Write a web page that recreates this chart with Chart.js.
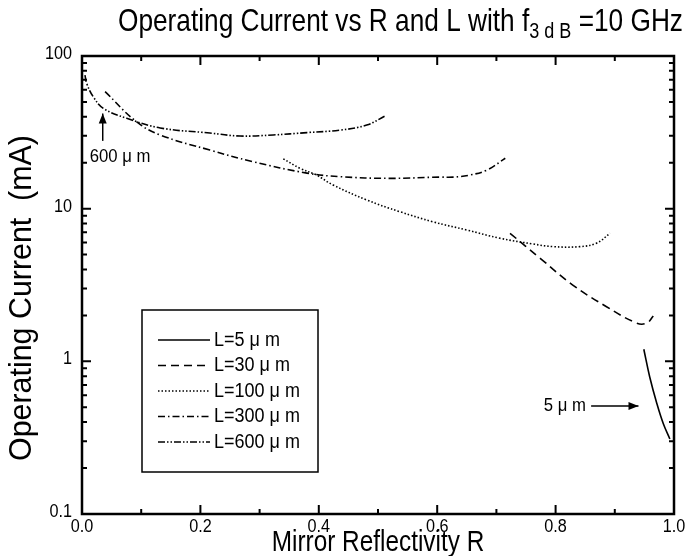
<!DOCTYPE html>
<html>
<head>
<meta charset="utf-8">
<script src="https://cdn.jsdelivr.net/npm/chart.js@4.4.1/dist/chart.umd.min.js"></script>
<style>
  html, body { margin: 0; background: #fff; }
  #wrap { width: 694px; height: 556px; }
</style>
</head>
<body>
<div id="wrap"><canvas id="chart"></canvas></div>
<script>
// Operating current vs mirror reflectivity, one curve per cavity length

const lengths = ['L=5 \u03bc m', 'L=30 \u03bc m', 'L=100 \u03bc m', 'L=300 \u03bc m', 'L=600 \u03bc m'];

const r5 = [0.949, 0.959, 0.971, 0.982, 0.993];
const i5 = [1.2, 0.79, 0.53, 0.39, 0.31];

const r30 = [0.723, 0.774, 0.829, 0.886, 0.937, 0.954, 0.965];
const i30 = [6.9, 4.73, 3.16, 2.28, 1.78, 1.78, 1.98];

const r100 = [0.340, 0.368, 0.396, 0.424, 0.481, 0.537, 0.593, 0.650, 0.706, 0.762, 0.796, 0.841, 0.869, 0.892];
const i100 = [21.2, 18.4, 16.6, 14.3, 11.4, 9.55, 8.2, 7.25, 6.4, 5.87, 5.64, 5.64, 5.94, 6.9];

const r300 = [0.039, 0.092, 0.132, 0.216, 0.289, 0.380, 0.436, 0.520, 0.603, 0.627, 0.655, 0.684, 0.715];
const i300 = [58.4, 37.1, 30.4, 24.2, 20.3, 17.1, 16.2, 15.8, 16.1, 16.1, 16.6, 17.9, 21.4];

const r600 = [0.005, 0.008, 0.019, 0.036, 0.0755, 0.132, 0.216, 0.267, 0.323, 0.380, 0.436, 0.481, 0.512];
const i600 = [75, 66, 54.1, 45.4, 39.1, 33.8, 31.3, 29.9, 30.4, 31.5, 32.7, 35.3, 40.5];

const dashes = [[], [8, 5], [1.5, 2], [7, 3, 1.5, 3], [7, 2, 1.5, 2, 1.5, 2]];

const xTicks = [0, 0.2, 0.4, 0.6, 0.8, 1.0];
const yTicks = [0.1, 1, 10, 100];

const FONT = "'Liberation Sans', Arial, sans-serif";

function pts(rs, is) {
    return rs.map((r, k) => ({ x: r, y: is[k] }));
}

const series = [[r5, i5], [r30, i30], [r100, i100], [r300, i300], [r600, i600]];

// narrow text: the original uses a condensed Helvetica
function txt(ctx, s, x, y, size, sx, align) {
    ctx.save();
    ctx.font = `${size}px ${FONT}`;
    ctx.textAlign = 'left';
    ctx.textBaseline = 'middle';
    const w = ctx.measureText(s).width * sx;
    const x0 = align === 'center' ? x - w / 2 : align === 'right' ? x - w : x;
    ctx.translate(x0, y);
    ctx.scale(sx, 1);
    ctx.fillText(s, 0, 0);
    ctx.restore();
    return w;
}

// --- Extra drawing: frame, inward ticks, labels, legend, callouts ---
const decor = {
    id: 'decor',
    afterDraw(chart) {
        const ctx = chart.ctx;
        const xs = chart.scales.x;
        const ys = chart.scales.y;
        const a = chart.chartArea;
        ctx.save();
        ctx.strokeStyle = '#000';
        ctx.fillStyle = '#000';

        // frame
        ctx.lineWidth = 2.5;
        ctx.strokeRect(a.left, a.top, a.right - a.left, a.bottom - a.top);

        // x ticks (bottom + top), every 0.1
        ctx.lineWidth = 2;
        for (let k = 0; k <= 10; k++) {
            const px = xs.getPixelForValue(k / 10);
            const len = k % 2 === 0 ? 9 : 5;
            ctx.beginPath();
            ctx.moveTo(px, a.bottom); ctx.lineTo(px, a.bottom - len);
            ctx.moveTo(px, a.top); ctx.lineTo(px, a.top + len);
            ctx.stroke();
        }
        // y ticks (left + right), log minors
        [0.1, 1, 10].forEach(d => {
            for (let m = 1; m <= 9; m++) {
                const py = ys.getPixelForValue(d * m);
                const len = m === 1 ? 9 : 5;
                ctx.beginPath();
                ctx.moveTo(a.left, py); ctx.lineTo(a.left + len, py);
                ctx.moveTo(a.right, py); ctx.lineTo(a.right - len, py);
                ctx.stroke();
            }
        });

        // tick labels
        xTicks.forEach(v => txt(ctx, v.toFixed(1), xs.getPixelForValue(v), a.bottom + 13, 18, 0.9, 'center'));
        yTicks.forEach(v => txt(ctx, String(v), a.left - 10, ys.getPixelForValue(v) - 2, 18, 0.9, 'right'));

        // title with subscript
        let tx = 118;
        tx += txt(ctx, 'Operating Current vs R and L with f', tx, 22, 32, 0.82, 'left');
        tx += txt(ctx, '3 d B', tx, 32, 22, 0.82, 'left');
        txt(ctx, ' =10 GHz', tx, 22, 32, 0.82, 'left');

        // axis titles
        txt(ctx, 'Mirror Reflectivity R', (a.left + a.right) / 2, 543, 29, 0.84, 'center');
        ctx.save();
        ctx.translate(22, 298);
        ctx.rotate(-Math.PI / 2);
        txt(ctx, 'Operating Current  (mA)', 0, 0, 31, 0.98, 'center');
        ctx.restore();

        // legend box
        ctx.lineWidth = 1.5;
        ctx.strokeRect(142, 310, 176, 162);
        lengths.forEach((lab, k) => {
            const ly = 340 + k * 25.5;
            ctx.setLineDash(dashes[k]);
            ctx.lineWidth = 1.3;
            ctx.beginPath();
            ctx.moveTo(158, ly); ctx.lineTo(210, ly);
            ctx.stroke();
            ctx.setLineDash([]);
            txt(ctx, lab, 214, ly, 20, 0.9, 'left');
        });

        // callout: 600 um
        txt(ctx, '600 \u03bc m', xs.getPixelForValue(0.013), ys.getPixelForValue(21.8), 19, 0.88, 'left');
        const ax = xs.getPixelForValue(0.035);
        arrow(ctx, ax, ys.getPixelForValue(27.8), ax, ys.getPixelForValue(42));

        // callout: 5 um
        const ay = ys.getPixelForValue(0.51);
        txt(ctx, '5 \u03bc m', xs.getPixelForValue(0.78), ay, 19, 0.88, 'left');
        arrow(ctx, xs.getPixelForValue(0.86), ay, xs.getPixelForValue(0.94), ay);

        ctx.restore();
    }
};

function arrow(ctx, x1, y1, x2, y2) {
    const ang = Math.atan2(y2 - y1, x2 - x1);
    ctx.lineWidth = 1.5;
    ctx.beginPath();
    ctx.moveTo(x1, y1); ctx.lineTo(x2, y2);
    ctx.stroke();
    ctx.beginPath();
    ctx.moveTo(x2, y2);
    ctx.lineTo(x2 - 10 * Math.cos(ang) + 4 * Math.sin(ang), y2 - 10 * Math.sin(ang) - 4 * Math.cos(ang));
    ctx.lineTo(x2 - 10 * Math.cos(ang) - 4 * Math.sin(ang), y2 - 10 * Math.sin(ang) + 4 * Math.cos(ang));
    ctx.closePath();
    ctx.fill();
}

new Chart(document.getElementById('chart'), {
    type: 'line',
    data: {
        datasets: series.map(([rs, is], k) => ({
            label: lengths[k],
            data: pts(rs, is),
            borderColor: '#000',
            borderWidth: 1.6,
            borderDash: dashes[k],
            pointRadius: 0,
            fill: false,
            tension: 0.4
        }))
    },
    options: {
        responsive: true,
        maintainAspectRatio: false,
        animation: false,
        layout: { padding: { top: 56, right: 20, left: 0, bottom: 0 } },
        plugins: {
            legend: { display: false },
            tooltip: { enabled: false }
        },
        scales: {
            x: {
                type: 'linear',
                min: 0,
                max: 1,
                grid: { display: false },
                border: { display: false },
                ticks: { display: false },
                afterFit: s => { s.height = 42; }
            },
            y: {
                type: 'logarithmic',
                min: 0.1,
                max: 100,
                grid: { display: false },
                border: { display: false },
                ticks: { display: false },
                afterFit: s => { s.width = 82; }
            }
        }
    },
    plugins: [decor]
});
</script>
</body>
</html>
